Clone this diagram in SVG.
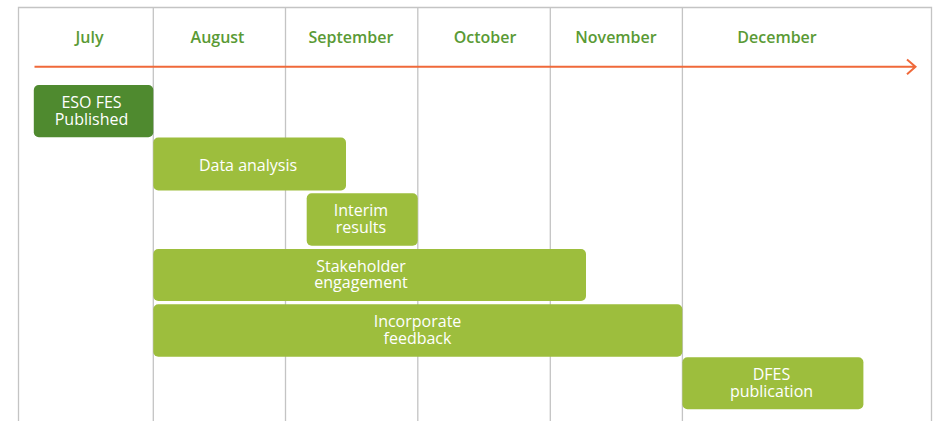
<svg xmlns="http://www.w3.org/2000/svg" width="935" height="421" viewBox="0 0 935 421">
<style>
.grid{stroke:#c4c4c4;stroke-width:1.3;fill:none}
.month{font-family:"Open Sans","Liberation Sans",sans-serif;font-weight:600;font-size:16px;fill:#5a9a35;text-anchor:middle}
.lbl{font-family:"Open Sans","Liberation Sans",sans-serif;font-weight:500;font-size:16px;fill:#ffffff;text-anchor:middle}
.bar{fill:#9dbe3d}
.dark{fill:#4f8a2f}
</style>
<rect width="935" height="421" fill="#ffffff"/>
<g id="grid">
<path class="grid" d="M18.5 421V7.5H931.5V421M153.3 7.5V421M285.5 7.5V421M417.8 7.5V421M550.3 7.5V421M682.4 7.5V421"/>
</g>
<g id="months">
<text class="month" x="89.5" y="42.5">July</text>
<text class="month" x="217.5" y="42.5">August</text>
<text class="month" x="351" y="42.5">September</text>
<text class="month" x="485" y="42.5">October</text>
<text class="month" x="616" y="42.5">November</text>
<text class="month" x="777" y="42.5">December</text>
</g>
<g id="connectors">
<path d="M34.5 66.8H915.5M907 59.5L915.5 66.8L907 74.2" fill="none" stroke="#f0693a" stroke-width="2"/>
</g>
<g id="eso-fes">
<rect class="dark" x="33.8" y="85" width="119.5" height="52.3" rx="5"/>
<text class="lbl" x="91.5" y="108.3">ESO FES<tspan x="91.5" dy="16.7">Published</tspan></text>
</g>
<g id="data-analysis">
<rect class="bar" x="153.3" y="137.5" width="192.7" height="53" rx="5"/>
<text class="lbl" x="248" y="170.7">Data analysis</text>
</g>
<g id="interim-results">
<rect class="bar" x="306.7" y="193.3" width="111" height="52.4" rx="5"/>
<text class="lbl" x="361" y="216">Interim<tspan x="361" dy="16.7">results</tspan></text>
</g>
<g id="stakeholder-engagement">
<rect class="bar" x="153.3" y="249" width="432.7" height="52" rx="5"/>
<text class="lbl" x="361" y="271.7">Stakeholder<tspan x="361" dy="16.7">engagement</tspan></text>
</g>
<g id="incorporate-feedback">
<rect class="bar" x="153.3" y="304.3" width="529" height="52.4" rx="5"/>
<text class="lbl" x="417.5" y="326.7">Incorporate<tspan x="417.5" dy="17.2">feedback</tspan></text>
</g>
<g id="dfes-publication">
<rect class="bar" x="682.4" y="357.3" width="181" height="52" rx="5"/>
<text class="lbl" x="771.5" y="380">DFES<tspan x="771.5" dy="16.7">publication</tspan></text>
</g>
</svg>
